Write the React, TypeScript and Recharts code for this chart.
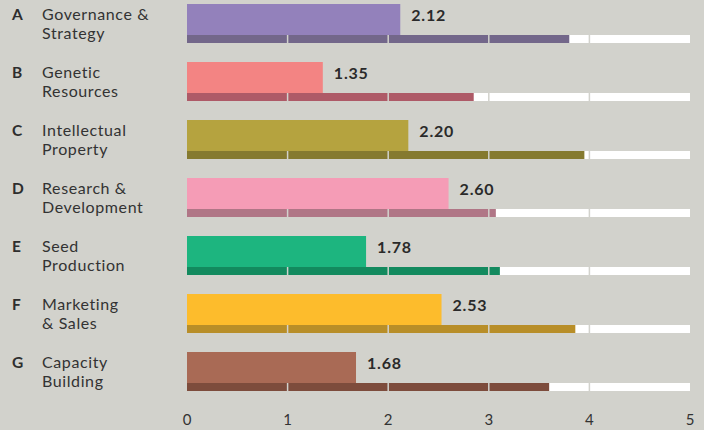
import { BarChart, Bar, XAxis, YAxis, Cell, LabelList } from "recharts";

const letters = ["A", "B", "C", "D", "E", "F", "G"];
const nameTop = ["Governance &", "Genetic", "Intellectual", "Research &", "Seed", "Marketing", "Capacity"];
const nameBottom = ["Strategy", "Resources", "Property", "Development", "Production", "& Sales", "Building"];
const scores = [2.12, 1.35, 2.2, 2.6, 1.78, 2.53, 1.68];
const benchmarks = [3.8, 2.85, 3.95, 3.07, 3.11, 3.86, 3.6];
const mainColors = ["#9381bb", "#f38483", "#b5a33f", "#f59cb6", "#1db57f", "#fdbc2c", "#a96a55"];
const darkColors = ["#73678a", "#ae5a67", "#857a2f", "#b07686", "#138a5e", "#b88e28", "#7d4c3c"];
const xTicks = [0, 1, 2, 3, 4, 5];

const BG = "#d2d2cc";
const FONT = "Lato, 'Open Sans', sans-serif";

const rows = letters.map((letter, i) => ({
  letter,
  top: nameTop[i],
  bottom: nameBottom[i],
  score: scores[i],
  bench: benchmarks[i],
}));

const CategoryTick = (props: any) => {
  const { y, index } = props;
  const row = rows[index];
  return (
    <g>
      <text x={12} y={y - 3} fill="#2e2e2e" fontSize={15.5} fontWeight={700} fontFamily={FONT}>
        {row.letter}
      </text>
      <text x={42} y={y - 3} fill="#333" fontSize={16} letterSpacing={0.6} fontFamily={FONT}>
        {row.top}
      </text>
      <text x={42} y={y + 16} fill="#333" fontSize={16} letterSpacing={0.6} fontFamily={FONT}>
        {row.bottom}
      </text>
    </g>
  );
};

// thin benchmark bar: coloured rect plus background-coloured dividers at each whole tick
const TrackBar = (props: any) => {
  const { x, y, width, height, fill, background } = props;
  const lines = background
    ? [1, 2, 3, 4].map((t) => background.x + (background.width * t) / 5)
    : [];
  return (
    <g>
      <rect x={x} y={y} width={Math.max(width, 0)} height={height} fill={fill} />
      {lines.map((lx) => (
        <line key={lx} x1={lx} x2={lx} y1={y} y2={y + height} stroke={BG} strokeWidth={1.5} />
      ))}
    </g>
  );
};

const ValueLabel = (props: any) => {
  const { x, y, width, value } = props;
  return (
    <text
      x={x + width + 11}
      y={y + 17}
      fill="#2a2a2a"
      fontSize={16}
      fontWeight={700}
      letterSpacing={0.8}
      fontFamily={FONT}
    >
      {Number(value).toFixed(2)}
    </text>
  );
};

export default function App() {
  return (
    <div style={{ position: "fixed", left: 0, top: 0, width: 704, height: 430, background: BG }}>
      <BarChart
        width={704}
        height={430}
        data={rows}
        layout="vertical"
        barGap={0}
        margin={{ top: -6, right: 14, bottom: 0, left: 0 }}
      >
        <XAxis
          type="number"
          domain={[0, 5]}
          ticks={xTicks}
          axisLine={false}
          tickLine={false}
          height={30}
          tickMargin={8}
          tick={{ fill: "#333", fontSize: 15, fontFamily: FONT }}
        />
        <YAxis
          type="category"
          dataKey="letter"
          width={187}
          axisLine={false}
          tickLine={false}
          tick={<CategoryTick />}
        />
        <Bar dataKey="score" barSize={31} isAnimationActive={false}>
          {rows.map((r, i) => (
            <Cell key={r.letter} fill={mainColors[i]} />
          ))}
          <LabelList dataKey="score" content={<ValueLabel />} />
        </Bar>
        <Bar
          dataKey="bench"
          barSize={8}
          isAnimationActive={false}
          background={{ fill: "#ffffff" }}
          shape={<TrackBar />}
        >
          {rows.map((r, i) => (
            <Cell key={r.letter} fill={darkColors[i]} />
          ))}
        </Bar>
      </BarChart>
    </div>
  );
}
